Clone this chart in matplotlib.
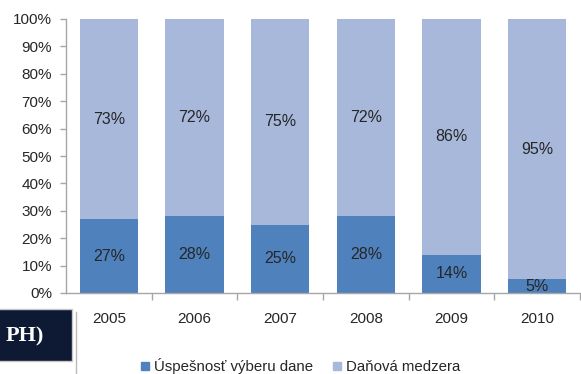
import matplotlib
matplotlib.use("Agg")
import matplotlib.pyplot as plt
from matplotlib.patches import Rectangle
from matplotlib.lines import Line2D
import numpy as np

plt.rcParams['font.family'] = ['Liberation Sans', 'DejaVu Sans']

years = ["2005", "2006", "2007", "2008", "2009", "2010"]
uspesnost = [27, 28, 25, 28, 14, 5]
medzera = [73, 72, 75, 72, 86, 95]
series_names = ["Úspešnosť výberu dane", "Daňová medzera"]
yticks = [0, 10, 20, 30, 40, 50, 60, 70, 80, 90, 100]

dark = "#4F81BD"
light = "#A7B8DB"
grey = "#A6A6A6"
txt = "#262626"

W, H = 581, 374
fig = plt.figure(figsize=(W / 100, H / 100), dpi=100)
ax = fig.add_axes([66 / W, 1 - 293 / H, (580 - 66) / W, (293 - 19) / H])

x = np.arange(len(years))
bw = 0.68
ax.bar(x, uspesnost, bw, color=dark, label=series_names[0], zorder=2)
ax.bar(x, medzera, bw, bottom=uspesnost, color=light, label=series_names[1], zorder=2)

for xi, a, b in zip(x, uspesnost, medzera):
    ax.text(xi, a / 2, f"{a}%", ha="center", va="center", fontsize=11.5, color=txt, zorder=3)
    ax.text(xi, a + b / 2, f"{b}%", ha="center", va="center", fontsize=11.5, color=txt, zorder=3)

ax.set_xlim(-0.5, len(years) - 0.5)
ax.set_ylim(0, 100)
ax.set_yticks(yticks)
ax.set_yticklabels([f"{v}%" for v in yticks], fontsize=11, color=txt)
ax.set_xticks(x)
ax.set_xticklabels(years, fontsize=11, color=txt)
ax.set_xticks(np.arange(0.5, len(years)), minor=True)
ax.tick_params(axis="x", which="major", length=0, pad=14)
ax.tick_params(axis="x", which="minor", length=5, color=grey, width=1)
ax.tick_params(axis="y", length=4, color=grey, width=1, pad=6)

for s in ["top", "right"]:
    ax.spines[s].set_visible(False)
for s in ["left", "bottom"]:
    ax.spines[s].set_color(grey)
    ax.spines[s].set_linewidth(1)

# legend row below the axis
handles = [
    Line2D([], [], marker="s", linestyle="none", markersize=6, color=dark),
    Line2D([], [], marker="s", linestyle="none", markersize=6, color=light),
]
fig.legend(handles, series_names, loc="center", bbox_to_anchor=(300 / W, 1 - 366 / H),
           ncol=2, frameon=False, fontsize=10.8, handlelength=0.6, handletextpad=0.3,
           columnspacing=1.3, labelcolor=txt, borderpad=0)

# dark title box at the lower left
box = Rectangle((-2 / W, 1 - 361 / H), 74 / W, 52 / H, transform=fig.transFigure,
                facecolor="#0E1A33", edgecolor="#C8C8C8", linewidth=1)
fig.add_artist(box)
fig.text(6 / W, 1 - 336 / H, "PH)", ha="left", va="center", color="white",
         fontsize=16, fontweight="bold", family="Liberation Serif")
fig.add_artist(Line2D([76 / W, 76 / W], [0, 1 - 312 / H], transform=fig.transFigure,
                      color="#BBBBBB", linewidth=1))

fig.savefig("out.png", dpi=100)
